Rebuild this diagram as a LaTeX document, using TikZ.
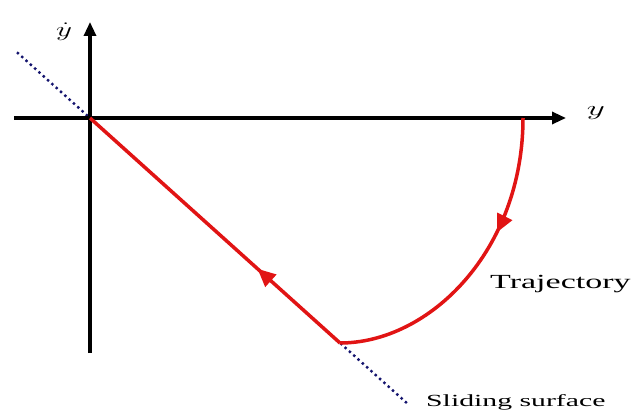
\documentclass[tikz,border=0pt]{standalone}
\usepackage{fontspec}
\setmainfont{Liberation Serif}
\usetikzlibrary{arrows.meta,decorations.markings}
\definecolor{traj}{RGB}{225,20,20}
\definecolor{surf}{RGB}{20,20,110}
\tikzset{
  axis/.style={line width=3.2pt,-{Triangle[length=14pt,width=12pt]}},
  trajline/.style={traj,line width=3.5pt},
  midarrow/.style={postaction={decorate},decoration={markings,
     mark=at position #1 with {\arrow[traj]{Triangle[length=18pt,width=16pt]}}}},
  surfline/.style={surf,line width=2.4pt,dash pattern=on 2.4pt off 3.4pt},
  lbl/.style={inner sep=0pt,font=\fontsize{20}{22}\selectfont},
  axlbl/.style={inner sep=0pt,font=\fontsize{21}{22}\selectfont}
}
\begin{document}
\begin{tikzpicture}[x=1pt,y=-1pt]
\useasboundingbox (0,0) rectangle (635,412);
\coordinate (O) at (90,118);
\coordinate (xl) at (14,118);
\coordinate (xr) at (566,118);
\coordinate (yb) at (90,353);
\coordinate (yt) at (90,22);
\coordinate (s1) at (17,52.3);
\coordinate (s2) at (409,405);
\coordinate (A) at (523,118);
\coordinate (B) at (340,343);
\draw[surfline] (s1) -- (s2);
\draw[axis] (xl) -- (xr);
\draw[axis] (yb) -- (yt);
\draw[trajline,midarrow=0.37] (A) .. controls (523,250) and (430,343) .. (B);
\draw[trajline,midarrow=0.33] (B) -- (O);
\node[axlbl] (ydot) at (64,32) {\scalebox{1.5}[1]{$\dot{y}$}};
\node[axlbl] (ylab) at (596,113) {\scalebox{1.7}[1]{$y$}};
\node[lbl,anchor=base west] (tr) at (490,288) {\scalebox{1.7}[1]{Trajectory}};
\node[lbl,anchor=base west,font=\fontsize{17}{20}\selectfont] (ss) at (426,406) {\scalebox{1.75}[1]{Sliding surface}};
\end{tikzpicture}
\end{document}
